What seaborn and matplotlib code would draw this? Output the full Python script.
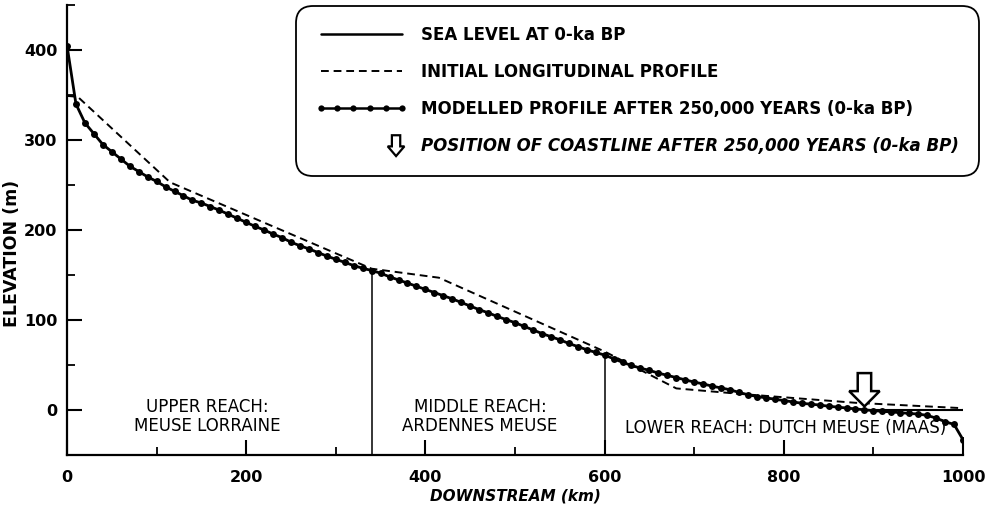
import numpy as np
import pandas as pd
import matplotlib
matplotlib.use("Agg")
import matplotlib.pyplot as plt
import seaborn as sns
from matplotlib.lines import Line2D
from matplotlib.patches import FancyArrow
from matplotlib.legend_handler import HandlerPatch

# Modelled longitudinal profile after 250,000 years, one node every 10 km
model_km = list(range(0, 1001, 10))
model_elev = [
    405, 340, 319, 307, 295, 287, 279, 271, 265, 259,
    254, 248, 243, 238, 233, 230, 226, 222, 217.5, 213,
    208.5, 204, 200, 195.5, 191.5, 186.5, 182.5, 179, 175, 171,
    167.5, 164, 160.5, 157.5, 155, 152, 148, 144.5, 141, 137.5,
    134, 130.5, 127, 123.5, 119.5, 115.5, 111.5, 108, 104, 100.5,
    97, 93, 89, 85, 81.5, 78, 74, 70.5, 67, 64,
    61, 57, 53, 49.5, 46.5, 44, 41, 38.5, 36, 33.5,
    31, 29, 26.5, 24.5, 22.5, 19.5, 17, 15, 13.5, 12,
    10.5, 9, 7.5, 6.5, 5.5, 4.2, 3.2, 2.2, 1.2, 0.2,
    -0.7, -1.5, -2.2, -3, -3.8, -4.5, -6, -9, -13, -16,
    -33,
]

# Initial longitudinal profile (break points)
init_km = [0, 12, 115, 340, 415, 600, 680, 750, 880, 1000]
init_elev = [349, 348, 253, 157, 147, 65, 24, 18, 8, 2]

# Sea level at 0-ka BP, seaward of the coastline
sea_km = [890, 1000]
sea_elev = [0, 0]

# Coastline position after 250,000 years
coast_km = 890

# Reach boundaries and their labels
reach_bounds = [340, 600]
reach_tops = [155, 61]
reach_labels = ["UPPER REACH:\nMEUSE LORRAINE", "MIDDLE REACH:\nARDENNES MEUSE",
                "LOWER REACH: DUTCH MEUSE (MAAS)"]
reach_label_km = [157, 461, 802]
reach_label_elev = [-7, -7, -20]

legend_labels = [
    "SEA LEVEL AT 0-ka BP",
    "INITIAL LONGITUDINAL PROFILE",
    "MODELLED PROFILE AFTER 250,000 YEARS (0-ka BP)",
    "POSITION OF COASTLINE AFTER 250,000 YEARS (0-ka BP)",
]

sns.set_style("ticks")
plt.rcParams["font.family"] = ["DejaVu Sans"]
plt.rcParams["font.weight"] = "bold"
for key in ("text.color", "axes.labelcolor", "xtick.color", "ytick.color",
            "axes.edgecolor"):
    plt.rcParams[key] = "black"

fig = plt.figure(figsize=(9.89, 5.08), dpi=100)
ax = fig.add_axes([67 / 989, 53 / 508, 896 / 989, 450 / 508])

model_df = pd.DataFrame({"km": model_km, "elev": model_elev})
init_df = pd.DataFrame({"km": init_km, "elev": init_elev})
sea_df = pd.DataFrame({"km": sea_km, "elev": sea_elev})

sns.lineplot(data=sea_df, x="km", y="elev", ax=ax, color="black", lw=1.5,
             sort=False, estimator=None)
sns.lineplot(data=init_df, x="km", y="elev", ax=ax, color="black", lw=1.4,
             linestyle=(0, (4, 2.5)), sort=False, estimator=None)
sns.lineplot(data=model_df, x="km", y="elev", ax=ax, color="black", lw=2.0,
             marker="o", markersize=5, markeredgewidth=0, sort=False,
             estimator=None)

ax.vlines(reach_bounds, -50, reach_tops, color="black", lw=1.1)

ax.add_patch(FancyArrow(coast_km, 41, 0, -37, width=15, head_width=34,
                        head_length=17, length_includes_head=True,
                        facecolor="white", edgecolor="black", lw=1.8,
                        zorder=5))

for txt, xk, ye in zip(reach_labels, reach_label_km, reach_label_elev):
    ax.text(xk, ye, txt, ha="center", va="center", fontsize=12,
            fontweight="normal", linespacing=1.05)

ax.set_xlim(0, 1000)
ax.set_ylim(-50, 450)
ax.set_xticks(range(0, 1001, 200))
ax.set_xticks(range(100, 1000, 200), minor=True)
ax.set_yticks(range(0, 401, 100))
ax.set_yticks(range(-50, 451, 100), minor=True)

ax.tick_params(which="major", direction="in", length=10.5, width=1.5,
               labelsize=11.5)
ax.tick_params(which="minor", direction="in", length=6, width=1.3)
ax.tick_params(axis="y", which="major", pad=7)
ax.tick_params(axis="x", which="major", pad=10.5)

for side in ("top", "right"):
    ax.spines[side].set_visible(False)
for side in ("left", "bottom"):
    ax.spines[side].set_linewidth(1.6)

ax.set_xlabel("DOWNSTREAM (km)", fontsize=11, fontweight="bold",
              fontstyle="italic", labelpad=3)
ax.set_ylabel("ELEVATION (m)", fontsize=12.5, fontweight="bold")
ax.yaxis.set_label_coords(-0.051, 0.447)


class ArrowHandler(HandlerPatch):
    def create_artists(self, legend, orig_handle, xdescent, ydescent,
                       width, height, fontsize, trans):
        cx = 0.88 * width - xdescent
        top = height / 2 + 7.5
        arrow = FancyArrow(cx, top, 0, -15, width=6, head_width=12,
                           head_length=7, length_includes_head=True,
                           facecolor="white", edgecolor="black", lw=1.6,
                           transform=trans)
        return [arrow]


arrow_proxy = FancyArrow(0, 0, 0, -1)
handles = [
    Line2D([], [], color="black", lw=1.8),
    Line2D([], [], color="black", lw=1.4, linestyle=(0, (4, 2.5))),
    Line2D([], [], color="black", lw=1.8, marker="o", markersize=4.5,
           markeredgewidth=0),
    arrow_proxy,
]
leg = ax.legend(handles, legend_labels, loc="upper right",
                bbox_to_anchor=(979 / 989, 1 - 6 / 508),
                bbox_transform=fig.transFigure, borderaxespad=0,
                fontsize=12, handlelength=5.45, handletextpad=0.85,
                labelspacing=1.15, borderpad=1.2, numpoints=6,
                frameon=True, fancybox=True, framealpha=1,
                edgecolor="black", handler_map={FancyArrow: ArrowHandler()})
leg.get_frame().set_linewidth(1.3)
leg.get_frame().set_boxstyle("round", pad=0, rounding_size=1.0)
leg.get_texts()[3].set_fontstyle("italic")

fig.savefig("out.png", dpi=100, facecolor="white")
